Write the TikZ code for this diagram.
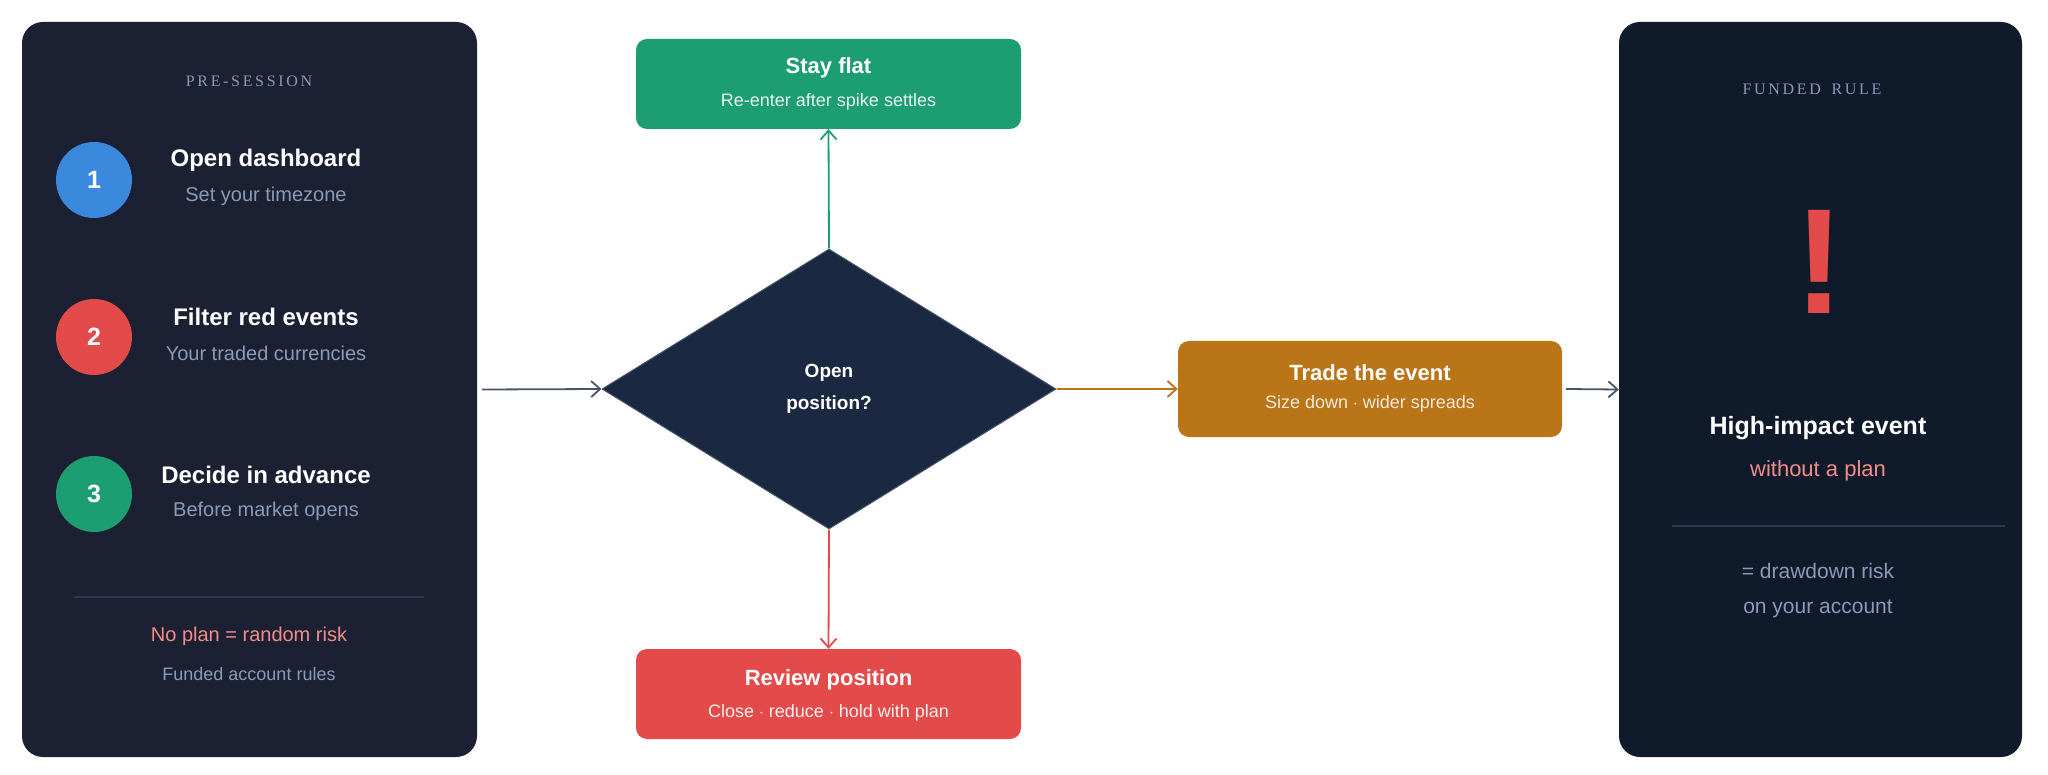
\documentclass[tikz,border=0pt]{standalone}
\usepackage{fontspec}
\setmainfont{Liberation Sans}
\newfontfamily\serifx{Liberation Serif}
\usetikzlibrary{shapes.geometric,arrows.meta}
\definecolor{panelA}{HTML}{1B2132}
\definecolor{panelB}{HTML}{0F1A2B}
\definecolor{muted}{HTML}{8A9AB8}
\definecolor{pinkx}{HTML}{F58C8A}
\definecolor{bluex}{HTML}{3A89DD}
\definecolor{redx}{HTML}{E24B4A}
\definecolor{greenx}{HTML}{1C9E72}
\definecolor{orangex}{HTML}{B97518}
\definecolor{diamx}{HTML}{1A2842}
\definecolor{arrowx}{HTML}{475569}
\definecolor{divx}{HTML}{2B3850}
\tikzset{
 panel/.style={rectangle,rounded corners=21pt,minimum width=#1,minimum height=735pt,inner sep=0pt},
 num/.style={circle,minimum size=76pt,inner sep=0pt,text=white,font=\fontsize{25}{28}\selectfont\bfseries},
 ttl/.style={text=white,font=\fontsize{24}{28}\selectfont\bfseries,inner sep=0pt},
 sub/.style={text=muted,font=\fontsize{20}{24}\selectfont,inner sep=0pt},
 hdr/.style={text=muted,font=\fontsize{16}{20}\selectfont\serifx,inner sep=0pt},
 box/.style={rectangle,rounded corners=11pt,minimum width=#1,inner sep=0pt},
 btl/.style={text=white,font=\fontsize{22}{26}\selectfont\bfseries,inner sep=0pt},
 bsb/.style={font=\fontsize{18}{22}\selectfont,inner sep=0pt},
 conn/.style={line width=1.8pt,-{Straight Barb[length=9pt,width=16pt,line width=1.8pt]}},
}
\begin{document}
\begin{tikzpicture}[x=1pt,y=-1pt]
\useasboundingbox (0,0) rectangle (2048,775);
\fill[white] (0,0) rectangle (2048,775);
% left panel
\node[panel=455pt,fill=panelA] (lp) at (249.5,389.5) {};
\node[hdr] (lh) at (249,81) {P\,R\,E\,-\,S\,E\,S\,S\,I\,O\,N};
\node[num,fill=bluex] (n1) at (94,180) {1};
\node[num,fill=redx] (n2) at (94,337) {2};
\node[num,fill=greenx] (n3) at (94,494) {3};
\node[ttl] (t1) at (266,160) {Open dashboard};
\node[sub] (s1) at (266,196) {Set your timezone};
\node[ttl] (t2) at (266,317) {Filter red events};
\node[sub] (s2) at (266,353) {Your traded currencies};
\node[ttl] (t3) at (266,475) {Decide in advance};
\node[sub] (s3) at (266,511) {Before market opens};
\coordinate (d1a) at (74,597); \coordinate (d1b) at (424,597);
\draw[divx,line width=1.2pt] (d1a) -- (d1b);
\node[sub,text=pinkx] (np) at (249,636) {No plan = random risk};
\node[sub,font=\fontsize{18}{22}\selectfont] (fr) at (249,674) {Funded account rules};
% right panel
\node[panel=403pt,fill=panelB] (rp) at (1820.5,389.5) {};
\node[hdr] (rh) at (1812,89) {F\,U\,N\,D\,E\,D\,\ \ R\,U\,L\,E};
\node[text=redx,font=\fontsize{150}{150}\selectfont\bfseries,inner sep=0pt] (ex) at (1819,262) {!};
\node[ttl,font=\fontsize{25}{30}\selectfont\bfseries] (hi) at (1818,428) {High-impact event};
\node[sub,text=pinkx,font=\fontsize{22}{26}\selectfont] (wp) at (1818,471) {without a plan};
\coordinate (d2a) at (1672,526); \coordinate (d2b) at (2005,526);
\draw[divx,line width=1.2pt] (d2a) -- (d2b);
\node[sub,font=\fontsize{21}{25}\selectfont] (dr) at (1818,571) {= drawdown risk};
\node[sub,font=\fontsize{21}{25}\selectfont] (oa) at (1818,609) {on your account};
% diamond
\node[diamond,aspect=1.62,fill=diamx,draw=arrowx,line width=1pt,minimum width=454pt,minimum height=280pt,inner sep=0pt] (dm) at (829,389) {};
\node[text=white,font=\fontsize{19}{32}\selectfont\bfseries,align=center,inner sep=0pt] (dq) at (829,389) {Open\\position?};
% boxes
\node[box=385pt,fill=greenx,minimum height=90pt] (sf) at (828.5,84) {};
\node[btl] at (828.5,68) {Stay flat};
\node[bsb,text=white!90!greenx] at (828.5,102) {Re-enter after spike settles};
\node[box=385pt,fill=redx,minimum height=90pt] (rv) at (828.5,694) {};
\node[btl] at (828.5,680) {Review position};
\node[bsb,text=white!92!redx] at (828.5,713) {Close $\cdot$ reduce $\cdot$ hold with plan};
\node[box=384pt,fill=orangex,minimum height=96pt] (tr) at (1370,389) {};
\node[btl] at (1370,373) {Trade the event};
\node[bsb,text=white!85!orangex] at (1370,404) {Size down $\cdot$ wider spreads};
% connectors
\draw[conn,arrowx] (lp.east) ++(5,0) coordinate (la) (la) -- (dm.west);
\draw[conn,greenx] (dm.north) -- (sf.south);
\draw[conn,redx] (dm.south) -- (rv.south |- rv.north);
\draw[conn,orangex] (dm.east) -- (tr.west);
\draw[conn,arrowx] (tr.east) ++(4,0) coordinate (ta) (ta) -- (rp.west);
\end{tikzpicture}
\end{document}
